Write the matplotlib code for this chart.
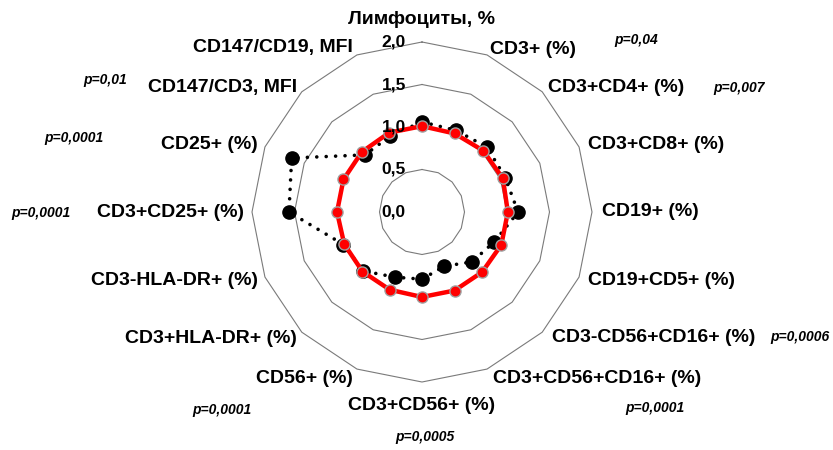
import numpy as np
import matplotlib
matplotlib.use("Agg")
import matplotlib.pyplot as plt

categories = [
    "Лимфоциты, %", "CD3+ (%)", "CD3+CD4+ (%)", "CD3+CD8+ (%)", "CD19+ (%)",
    "CD19+CD5+ (%)", "CD3-CD56+CD16+ (%)", "CD3+CD56+CD16+ (%)", "CD3+CD56+ (%)",
    "CD56+ (%)", "CD3+HLA-DR+ (%)", "CD3-HLA-DR+ (%)", "CD3+CD25+ (%)",
    "CD25+ (%)", "CD147/CD3, MFI", "CD147/CD19, MFI",
]
control = [1.01, 1.0, 1.02, 1.03, 1.01, 1.01, 1.0, 1.0, 1.0, 0.99, 0.99, 0.99, 1.0, 1.0, 1.0, 1.01]
patients = [1.06, 1.04, 1.08, 1.06, 1.13, 0.92, 0.83, 0.69, 0.79, 0.83, 0.98, 1.0, 1.565, 1.66, 0.95, 0.97]
r_ticks = [0.0, 0.5, 1.0, 1.5, 2.0]
r_tick_labels = ["0,0", "0,5", "1,0", "1,5", "2,0"]
p_labels = ["", "p=0,04", "p=0,007", "", "", "", "p=0,0006", "p=0,0001", "p=0,0005",
            "p=0,0001", "", "", "p=0,0001", "p=0,0001", "p=0,01", ""]

# label offsets (pixels) from the outer vertex
lab_off = [(0, 22), (3, 5), (6, 4), (9, 2), (10, 0), (9, -3), (10, -5), (6, -9), (0, -23),
           (-4, -9), (-5, -6), (-7, -3), (-8, 0), (-7, 2), (-5, 4), (-4, 7)]
# p-value label positions (pixels, from top-left of figure)
p_pos = {1: (636, 40), 2: (739, 88), 6: (800, 337), 7: (655, 408), 8: (425, 437),
         9: (222, 410), 12: (41, 213), 13: (74, 138), 14: (105, 80)}

plt.rcParams['font.family'] = ['Liberation Sans', 'DejaVu Sans']

W, H = 833, 450
fig = plt.figure(figsize=(W / 100, H / 100), dpi=100)
cx, cy, R = 422, 212, 170
ax = fig.add_axes([(cx - R) / W, 1 - (cy + R) / H, 2 * R / W, 2 * R / H], projection='polar')
ax.set_theta_zero_location('N')
ax.set_theta_direction(-1)
ax.set_ylim(0, 2.0)
ax.grid(False)
ax.set_xticks([])
ax.set_yticks([])
ax.spines['polar'].set_visible(False)
ax.patch.set_visible(False)

n = len(categories)
theta = np.arange(n) * 2 * np.pi / n
theta_c = np.append(theta, theta[0])

for r in r_ticks[1:]:
    ax.plot(theta_c, [r] * (n + 1), color='#7a7a7a', lw=0.8, zorder=1, clip_on=False)

pc = np.append(patients, patients[0])
ax.plot(theta_c, pc, color='black', lw=2.6, linestyle=(0, (0.01, 2.6)),
        dash_capstyle='round', zorder=3, clip_on=False)
ax.plot(theta, patients, 'o', color='black', ms=9.5, zorder=3, clip_on=False)

cc = np.append(control, control[0])
ax.plot(theta_c, cc, color='#FF0000', lw=3.2, zorder=4, clip_on=False)
ax.plot(theta, control, 'o', mfc='#FF0000', mec='#A0A0A0', mew=1, ms=8, zorder=5, clip_on=False)

for r, t in zip(r_ticks, r_tick_labels):
    ax.annotate(t, xy=(0, r), xytext=(-16, 0), textcoords='offset pixels', ha='right',
                va='center', fontsize=12.5, fontweight='bold', zorder=6, annotation_clip=False)

for i, (lab, th) in enumerate(zip(categories, theta)):
    s = np.sin(th)
    ha = 'center' if abs(s) < 1e-6 else ('left' if s > 0 else 'right')
    ax.annotate(lab, xy=(th, 2.0), xytext=lab_off[i], textcoords='offset pixels', ha=ha,
                va='center', fontsize=14, fontweight='bold', annotation_clip=False)

for i, p in enumerate(p_labels):
    if p:
        x, y = p_pos[i]
        fig.text(x / W, 1 - y / H, p, ha='center', va='center', fontsize=10,
                 fontweight='bold', fontstyle='italic')

fig.savefig('out.png', dpi=100)
